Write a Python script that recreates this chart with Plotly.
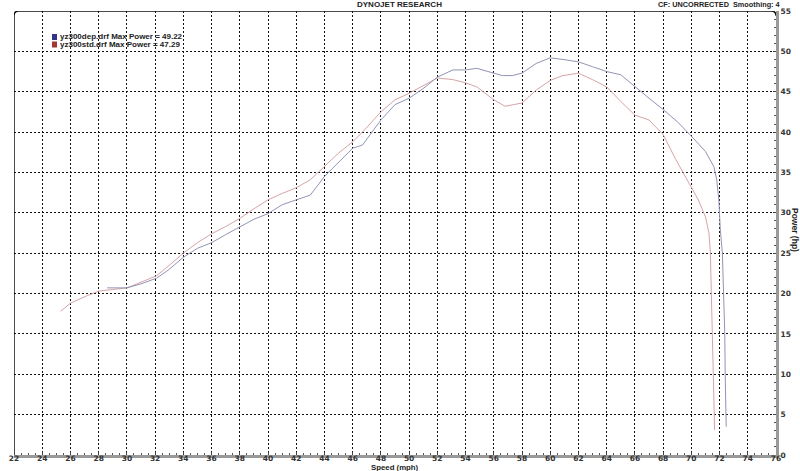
import plotly.graph_objects as go

# ---- data ----
dep_speed = [28.6, 30.0, 31.0, 32.1, 33.0, 34.0, 35.0, 36.0, 37.0, 38.0, 39.0, 40.0, 41.0, 42.0, 43.0,
             44.0, 45.0, 46.0, 46.7, 47.3, 48.0, 49.0, 50.0, 51.0, 52.0, 53.1, 54.0, 54.8, 56.0, 56.6,
             57.3, 58.0, 59.0, 60.0, 60.9, 62.0, 63.0, 64.0, 65.0, 66.0, 67.0, 68.0, 69.0, 70.0, 71.0,
             71.6, 71.8, 71.95, 72.05, 72.2, 72.3, 72.37, 72.4, 72.47]
dep_power = [20.7, 20.7, 21.2, 21.9, 23.0, 24.5, 25.6, 26.3, 27.3, 28.3, 29.2, 29.9, 31.0, 31.6, 32.2,
             34.5, 36.3, 38.0, 38.4, 39.8, 41.5, 43.4, 44.2, 45.4, 46.8, 47.7, 47.7, 47.9, 47.3, 47.0,
             47.0, 47.3, 48.5, 49.2, 49.0, 48.7, 48.1, 47.5, 47.1, 45.6, 44.2, 42.8, 41.3, 39.5, 37.6,
             35.7, 34.1, 31.6, 28.0, 25.0, 20.0, 15.0, 10.0, 3.5]

std_speed = [25.3, 26.0, 27.0, 28.0, 29.0, 30.0, 31.0, 32.1, 33.0, 34.0, 35.0, 36.0, 37.0, 38.0, 39.0,
             40.0, 41.0, 42.0, 43.0, 44.0, 45.0, 46.0, 46.7, 48.0, 49.0, 50.0, 51.0, 52.0, 53.1, 54.0,
             54.8, 56.0, 56.8, 58.0, 59.0, 60.0, 60.9, 62.0, 63.0, 64.0, 65.0, 66.0, 67.0, 68.0, 68.9,
             70.0, 70.5, 71.0, 71.25, 71.35, 71.43, 71.5, 71.57, 71.65]
std_power = [17.8, 18.8, 19.6, 20.3, 20.5, 20.7, 21.4, 22.2, 23.5, 25.0, 26.3, 27.4, 28.3, 29.3, 30.5,
             31.6, 32.4, 33.1, 34.1, 35.7, 37.4, 38.8, 40.0, 42.5, 44.0, 44.8, 45.8, 46.7, 46.5, 46.1,
             45.6, 44.0, 43.2, 43.6, 45.2, 46.4, 47.0, 47.3, 46.5, 45.6, 43.8, 42.1, 41.5, 39.7, 36.6,
             33.2, 31.6, 29.5, 27.5, 25.0, 20.0, 15.0, 10.0, 3.1]

legend_labels = ["yz300dep.drf Max Power = 49.22", "yz300std.drf Max Power = 47.29"]
x_ticks = list(range(22, 77, 2))
y_ticks = list(range(0, 56, 5))

W, H = 800, 471
L, R, T, B = 14, 776, 11, 455


def px(x):
    return (x - L) / (R - L)


def py(y):
    return (B - y) / (B - T)


FONT = "Liberation Sans"
TICKFONT = dict(family="DejaVu Sans", size=7.5, color="#333", weight="bold")
fig = go.Figure()
fig.add_trace(go.Scatter(x=std_speed, y=std_power, mode="lines",
                         line=dict(color="#d8a3a6", width=1), showlegend=False))
fig.add_trace(go.Scatter(x=dep_speed, y=dep_power, mode="lines",
                         line=dict(color="#9294b6", width=1), showlegend=False))

fig.update_layout(
    width=W, height=H,
    margin=dict(l=L, r=W - R, t=T, b=H - B, autoexpand=False),
    paper_bgcolor="white", plot_bgcolor="white",
    showlegend=False,
    xaxis=dict(range=[22, 76], tickvals=x_ticks, showgrid=True, gridcolor="#111",
               gridwidth=1, griddash="2px,2px", zeroline=False,
               showline=True, linecolor="#999", linewidth=3,
               ticks="inside", ticklen=3, tickcolor="#444", tickwidth=1,
               minor=dict(dtick=0.5, ticks="inside", ticklen=2, tickcolor="#555", showgrid=False),
               tickfont=TICKFONT, ticklabelstandoff=-6,
               automargin=False, fixedrange=True),
    yaxis=dict(range=[0, 55], tickvals=y_ticks, side="right", showgrid=True, gridcolor="#111",
               gridwidth=1, griddash="2px,2px", zeroline=False,
               showline=True, linecolor="#999", linewidth=3,
               ticks="inside", ticklen=3, tickcolor="#444", tickwidth=1,
               minor=dict(dtick=1, ticks="inside", ticklen=2, tickcolor="#555", showgrid=False),
               tickfont=TICKFONT, ticklabelstandoff=0,
               automargin=False, fixedrange=True),
)

# left/top frame with rounded corners
fig.add_shape(type="path", xref="x", yref="y",
              path="M 22,0 L 22,54.4 Q 22,55 22.35,55 L 75.65,55 Q 76,55 76,54.4",
              line=dict(color="#111", width=1.5), layer="above")

ann = dict(showarrow=False, xref="paper", yref="paper")
fig.add_annotation(text="DYNOJET RESEARCH", x=px(400), y=py(5), xanchor="center", yanchor="middle",
                   font=dict(family=FONT, size=8, color="#222", weight="bold"), **ann)
fig.add_annotation(text="CF: UNCORRECTED  Smoothing: 4", x=px(783), y=py(5), xanchor="right",
                   yanchor="middle", font=dict(family=FONT, size=7.3, color="#222", weight="bold"), **ann)
fig.add_annotation(text="Speed (mph)", x=px(395), y=py(467.5), xanchor="center", yanchor="middle",
                   font=dict(family=FONT, size=7.8, color="#222", weight="bold"), **ann)
fig.add_annotation(text="Power (hp)", x=px(795), y=py(230), xanchor="center", yanchor="middle",
                   textangle=90, font=dict(family=FONT, size=8.5, color="#222", weight="bold"), **ann)

sq_colors = ["#33338a", "#a03838"]
for i, (lab, c) in enumerate(zip(legend_labels, sq_colors)):
    yc = 37 + i * 7.5
    fig.add_shape(type="rect", xref="paper", yref="paper",
                  x0=px(52), x1=px(57), y0=py(yc - 3), y1=py(yc + 3),
                  fillcolor=c, line=dict(width=0))
    fig.add_annotation(text=lab, x=px(58), y=py(yc), xanchor="left", yanchor="middle",
                       font=dict(family=FONT, size=8, color="#222", weight="bold"), **ann)

fig.write_html("out.html", config=dict(displayModeBar=False),
               post_script="document.body.style.margin='0px';document.body.style.overflow='hidden';")
